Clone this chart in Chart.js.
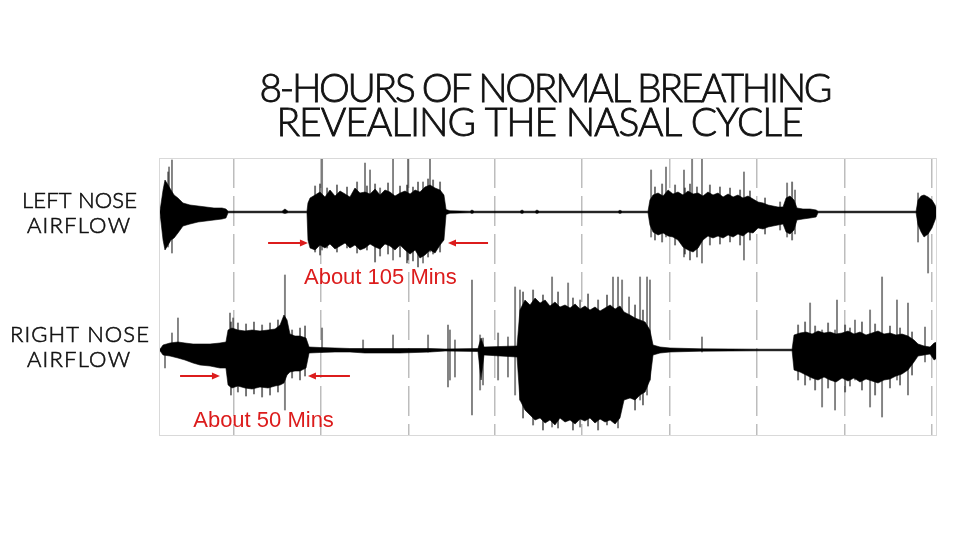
<!DOCTYPE html>
<html>
<head>
<meta charset="utf-8">
<script src="https://cdn.jsdelivr.net/npm/chart.js@4.4.1/dist/chart.umd.min.js"></script>
<style>
  html, body { margin: 0; padding: 0; background: #fff; }
  #wrap { width: 960px; height: 540px; }
</style>
</head>
<body>
<div id="wrap"><canvas id="breath" width="960" height="540"></canvas></div>
<script>
// time in minutes (8 h record), amplitudes in arbitrary airflow units
const gridTimes = [46, 100, 154, 207, 261, 315, 369, 423, 477];

const leftTime = [0.6, 2.5, 3.7, 5.6, 7.4, 9.3, 11.7, 14.8, 19.1, 24.1, 29.0, 33.9, 38.9, 41.3, 42.6,
  75.9, 77.7, 79.6, 91.3, 91.9, 93.2, 96.3, 99.3, 102.4, 105.5, 108.6, 111.7, 114.8, 117.8, 120.9,
  124.0, 127.1, 130.2, 133.3, 136.4, 139.4, 142.5, 145.6, 148.7, 151.8, 154.9, 158.0, 161.0, 164.1,
  167.2, 170.3, 173.4, 175.8, 177.1, 179.5, 191.9, 193.1, 194.4, 222.7, 224.0, 225.2, 232.0, 233.2,
  234.5, 283.2, 284.4, 285.7, 301.7, 302.9, 304.8, 307.9, 311.0, 314.1, 317.1, 320.2, 323.3, 326.4,
  329.5, 332.6, 335.6, 338.7, 341.8, 344.9, 348.0, 351.1, 354.2, 357.2, 360.3, 363.4, 366.5, 369.6,
  372.7, 375.8, 378.8, 381.9, 385.0, 386.9, 389.3, 391.8, 393.6, 397.3, 401.7, 405.4, 406.6, 467.1,
  468.3, 470.2, 472.0, 474.5, 476.9, 478.8, 480];
const leftUp = [0.8, 22, 32, 27, 22, 17, 14, 9, 7, 6, 5, 4, 4, 3, 0.8,
  0.8, 3, 0.8, 0.8, 9, 14, 17, 20, 15, 22, 16, 21, 18, 15, 24,
  19, 20, 18, 23, 17, 22, 20, 16, 19, 21, 18, 22, 20, 25,
  27, 24, 22, 17, 2.5, 1.2, 0.8, 2, 0.8, 0.8, 2, 0.8, 0.8, 2,
  0.8, 0.8, 1.8, 0.8, 0.8, 12, 17, 19, 16, 22, 18, 20, 17, 21,
  18, 19, 16, 20, 17, 19, 15, 18, 15, 17, 14, 16, 13, 10,
  9, 7, 6, 5, 5, 14, 16, 12, 4, 3, 3, 2, 0.8, 0.8,
  12, 16, 17, 15, 12, 7, 2];
const leftDown = [0.8, 28, 38, 33, 28, 26, 21, 14, 12, 10, 9, 8, 7, 6, 0.8,
  0.8, 1.5, 0.8, 0.8, 28, 36, 38, 33, 36, 32, 37, 34, 31, 36, 33,
  38, 36, 32, 35, 37, 32, 34, 38, 33, 38, 42, 38, 46, 43,
  38, 41, 33, 28, 2.5, 1.2, 0.8, 1.5, 0.8, 0.8, 1.5, 0.8, 0.8, 1.5,
  0.8, 0.8, 1.5, 0.8, 0.8, 13, 20, 23, 21, 24, 25, 28, 35, 38,
  40, 36, 28, 24, 26, 24, 26, 23, 25, 22, 24, 20, 21, 16,
  17, 15, 14, 13, 12, 20, 22, 18, 8, 7, 6, 5, 0.8, 0.8,
  13, 20, 25, 22, 16, 8, 2];

const rightTime = [0.6, 2.5, 6.8, 11.7, 16.0, 21.0, 25.3, 31.5, 37.6, 41.3, 42.6, 45.0, 48.7, 53.1,
  57.4, 62.3, 67.3, 71.6, 74.7, 77.1, 79.0, 80.8, 83.9, 87.0, 90.7, 92.6, 99.3, 108.6, 117.8, 127.1,
  148.7, 167.2, 176.5, 196.8, 198.7, 200.5, 220.9, 222.7, 225.8, 228.9, 232.0, 235.1, 238.2, 241.2,
  244.3, 247.4, 250.5, 253.6, 256.7, 259.8, 262.8, 265.9, 269.0, 272.1, 275.2, 278.3, 281.4, 284.4,
  286.9, 290.6, 293.7, 296.8, 299.9, 302.9, 304.8, 309.1, 315.3, 333.8, 370.8, 390.6, 391.8, 395.5,
  399.2, 402.9, 406.6, 410.3, 414.0, 417.7, 421.4, 425.1, 428.8, 432.5, 436.2, 439.9, 443.6, 447.3,
  451.0, 454.7, 458.4, 462.1, 465.8, 468.3, 472.0, 475.7, 478.2, 480];
const rightUp = [0.8, 5, 7, 8, 7, 6, 6, 6, 7, 8, 20, 22, 20, 19,
  20, 19, 20, 21, 25, 35, 30, 16, 14, 14, 12, 3, 2.5, 2, 1.5, 1.5,
  1.5, 1.5, 1, 1.5, 12, 3, 4, 40, 50, 45, 52, 47, 50, 44,
  48, 43, 45, 42, 46, 41, 44, 40, 43, 39, 42, 45, 41, 44,
  38, 35, 32, 30, 28, 20, 5, 3, 2, 1.2, 0.8, 0.8, 15, 17,
  18, 16, 19, 17, 18, 16, 17, 19, 16, 18, 15, 17, 19, 16,
  17, 15, 16, 14, 10, 6, 4, 3, 7, 8];
const rightDown = [0.8, 5, 6, 8, 10, 13, 15, 16, 18, 18, 35, 38, 36, 38,
  39, 37, 38, 36, 35, 33, 25, 22, 21, 21, 18, 3, 2.5, 2, 2, 3,
  3, 2, 1, 1.5, 30, 5, 7, 50, 60, 65, 70, 68, 73, 70,
  75, 68, 72, 70, 74, 69, 71, 68, 73, 69, 72, 70, 74, 68,
  50, 48, 50, 45, 42, 30, 5, 3, 2, 1.2, 0.8, 0.8, 20, 22,
  25, 28, 30, 27, 30, 32, 28, 31, 28, 32, 29, 31, 33, 30,
  29, 26, 24, 20, 12, 6, 5, 4, 10, 8];

// isolated breaths / artefacts standing out of the envelope
const leftSpikeTime = [5.6, 6.2, 8.0, 100.6, 127.1, 130.2, 144.4, 153.6, 162.9, 167.2,
  303.6, 312.8, 323.9, 328.9, 335.0, 360.9, 387.5, 392.4, 468.3, 474.5];
const leftSpikeUp = [40, 45, 52, 55, 49, 42, 55, 55, 30, 55, 42, 45, 42, 54, 54, 40, 29, 22, 19, 10];
const leftSpikeDown = [35, 30, 41, 38, 30, 30, 48, 48, 51, 40, 25, 25, 45, 35, 51, 48, 25, 22, 30, 61];

const rightSpikeTime = [3.7, 8.0, 11.7, 43.8, 45.7, 77.7, 100.6, 125.9, 144.4, 166.0,
  178.3, 179.5, 182.6, 193.1, 198.1, 199.9, 209.2, 215.3, 219.7, 222.7,
  242.5, 252.4, 259.8, 280.1, 283.2, 285.7, 290.0, 296.8, 301.1, 302.9,
  335.0, 401.7, 409.1, 417.1, 418.3, 429.4, 438.7, 446.1, 455.3, 462.1, 472.6];
const rightSpikeUp = [0, 17, 32, 37, 32, 75, 22, 10, 15, 15, 25, 20, 10, 70, 15, 12, 17, 13, 63, 60,
  73, 67, 50, 73, 73, 70, 53, 73, 73, 70, 13, 47, 20, 20, 50, 30, 40, 73, 50, 47, 23];
const rightSpikeDown = [18, 2, 2, 36, 36, 60, 2, 2, 2, 2, 37, 30, 27, 65, 40, 35, 30, 27, 45, 50,
  77, 70, 77, 70, 78, 50, 47, 50, 45, 30, 2, 30, 57, 60, 30, 30, 57, 67, 30, 45, 12];

// short ragged breaths on the edges of the active phases
const leftFringeTime = [96.3, 99.3, 103.7, 109.8, 116.0, 122.2, 128.3, 133.3, 136.4, 141.3, 148.7,
  153.0, 156.7, 159.8, 166.0, 169.1, 173.4,
  306.0, 310.4, 318.4, 324.5, 327.6, 331.9, 339.9, 346.1, 352.3, 358.5, 364.6, 373.9, 383.2, 390.6];
const leftFringeUp = [26, 28, 24, 27, 25, 30, 26, 28, 24, 29, 26, 27, 25, 30, 33, 32, 30,
  25, 28, 27, 24, 28, 25, 27, 25, 24, 22, 21, 14, 10, 30];
const leftFringeDown = [40, 43, 36, 40, 36, 41, 38, 50, 44, 42, 45, 51, 49, 55, 45, 42, 40,
  28, 30, 33, 42, 48, 45, 33, 32, 30, 33, 28, 22, 18, 28];

const rightFringeTime = [44.4, 48.7, 53.7, 58.6, 63.6, 68.5, 73.4, 82.1, 87.0, 90.1,
  224.6, 230.8, 236.9, 246.2, 255.4, 264.7, 270.9, 276.4, 293.7, 298.6,
  394.3, 398.6, 404.8, 412.8, 423.3, 426.3, 433.7, 441.8, 451.0, 457.2, 464.6];
const rightFringeUp = [28, 27, 26, 28, 25, 27, 30, 20, 22, 24,
  58, 60, 55, 58, 52, 56, 50, 55, 45, 40,
  25, 28, 24, 27, 25, 22, 28, 26, 24, 22, 18];
const rightFringeDown = [45, 42, 46, 44, 47, 45, 42, 28, 30, 26,
  68, 75, 80, 78, 80, 76, 80, 75, 60, 55,
  30, 35, 40, 38, 42, 36, 40, 45, 38, 35, 25];

const titleLines = ['8-HOURS OF NORMAL BREATHING', 'REVEALING THE NASAL CYCLE'];
const traceLabels = [['LEFT NOSE', 'AIRFLOW'], ['RIGHT NOSE', 'AIRFLOW']];
const notes = [
  { text: 'About 105 Mins', trace: 0, t: 136.6, level: -72, arrows: [[67.3, 91.9], [203.0, 178.3]], arrowLevel: -31 },
  { text: 'About 50 Mins', trace: 1, t: 64.5, level: -77, arrows: [[13.0, 37.6], [117.8, 91.9]], arrowLevel: -26 }
];

const baselines = [224, 86]; // channel offsets on the shared y axis
const RED = '#dc1c1c';

function envelope(times, up, down, base) {
  const common = { borderColor: '#000', borderWidth: 0.6, pointRadius: 0, tension: 0 };
  return [
    Object.assign({ data: times.map((t, i) => ({ x: t, y: base + up[i] })), fill: '+1', backgroundColor: '#000' }, common),
    Object.assign({ data: times.map((t, i) => ({ x: t, y: base - down[i] })), fill: false }, common)
  ];
}
function spikes(times, up, down, base, color, width) {
  return {
    type: 'bar',
    data: times.map((t, i) => ({ x: t, y: [base - down[i], base + up[i]] })),
    backgroundColor: color,
    barThickness: width,
    grouped: false
  };
}

// draw text spread to a given width, optionally thickened
function fitText(ctx, text, cx, y, width, stroke) {
  ctx.letterSpacing = '0px';
  const w = ctx.measureText(text).width;
  const s = (width - w) / (text.length - 1);
  ctx.letterSpacing = s + 'px';
  ctx.textAlign = 'left';
  ctx.fillText(text, cx - width / 2, y);
  if (stroke) {
    ctx.lineWidth = stroke;
    ctx.strokeText(text, cx - width / 2, y);
  }
  ctx.letterSpacing = '0px';
}

const decor = {
  id: 'decor',
  afterDraw(chart) {
    const { ctx, chartArea: a, scales: { x, y } } = chart;
    ctx.save();
    // frame
    ctx.strokeStyle = '#d9d9d9';
    ctx.lineWidth = 1;
    ctx.strokeRect(a.left + 0.5, a.top + 0.5, a.right - a.left - 1, a.bottom - a.top - 1);

    ctx.fillStyle = '#111';
    ctx.strokeStyle = '#111';
    ctx.textBaseline = 'alphabetic';
    ctx.font = '300 39px Lato, "Noto Sans", sans-serif';
    fitText(ctx, titleLines[0], 546, 102, 573, 0.8);
    fitText(ctx, titleLines[1], 540, 136, 527, 0.8);

    ctx.font = '300 22px Lato, "Noto Sans", sans-serif';
    fitText(ctx, traceLabels[0][0], 79.5, 208, 115, 0.6);
    fitText(ctx, traceLabels[0][1], 78.5, 233, 103, 0.6);
    fitText(ctx, traceLabels[1][0], 79.5, 342, 139, 0.6);
    fitText(ctx, traceLabels[1][1], 78.5, 367, 103, 0.6);

    ctx.fillStyle = RED;
    ctx.strokeStyle = RED;
    ctx.lineWidth = 2;
    ctx.font = '22px "Liberation Sans", Arial, sans-serif';
    ctx.textAlign = 'center';
    notes.forEach(n => {
      const base = baselines[n.trace];
      ctx.fillText(n.text, x.getPixelForValue(n.t), y.getPixelForValue(base + n.level));
      const py = y.getPixelForValue(base + n.arrowLevel);
      n.arrows.forEach(([from, to]) => {
        const x1 = x.getPixelForValue(from), x2 = x.getPixelForValue(to);
        const dir = Math.sign(x2 - x1);
        ctx.beginPath();
        ctx.moveTo(x1, py);
        ctx.lineTo(x2 - dir * 6, py);
        ctx.stroke();
        ctx.beginPath();
        ctx.moveTo(x2, py);
        ctx.lineTo(x2 - dir * 8, py - 3.5);
        ctx.lineTo(x2 - dir * 8, py + 3.5);
        ctx.closePath();
        ctx.fill();
      });
    });
    ctx.restore();
  }
};

new Chart(document.getElementById('breath').getContext('2d'), {
  type: 'line',
  data: {
    datasets: [
      ...envelope(leftTime, leftUp, leftDown, baselines[0]),
      ...envelope(rightTime, rightUp, rightDown, baselines[1]),
      spikes(leftFringeTime, leftFringeUp, leftFringeDown, baselines[0], 'rgba(0,0,0,0.55)', 1.3),
      spikes(rightFringeTime, rightFringeUp, rightFringeDown, baselines[1], 'rgba(0,0,0,0.55)', 1.3),
      spikes(leftSpikeTime, leftSpikeUp, leftSpikeDown, baselines[0], 'rgba(30,30,30,0.55)', 1.3),
      spikes(rightSpikeTime, rightSpikeUp, rightSpikeDown, baselines[1], 'rgba(30,30,30,0.55)', 1.3)
    ]
  },
  options: {
    responsive: false,
    animation: false,
    layout: { padding: { left: 159, right: 23, top: 158, bottom: 104 } },
    plugins: { legend: { display: false }, tooltip: { enabled: false } },
    scales: {
      x: {
        type: 'linear', min: 0, max: 480, offset: false,
        afterBuildTicks: axis => { axis.ticks = gridTimes.map(v => ({ value: v })); },
        ticks: { display: false },
        grid: { color: '#bdbdbd', lineWidth: 1.5, drawTicks: false, offset: false },
        border: { display: false, dash: [30, 8] }
      },
      y: { display: false, min: 0, max: 278 }
    }
  },
  plugins: [decor]
});
</script>
</body>
</html>
